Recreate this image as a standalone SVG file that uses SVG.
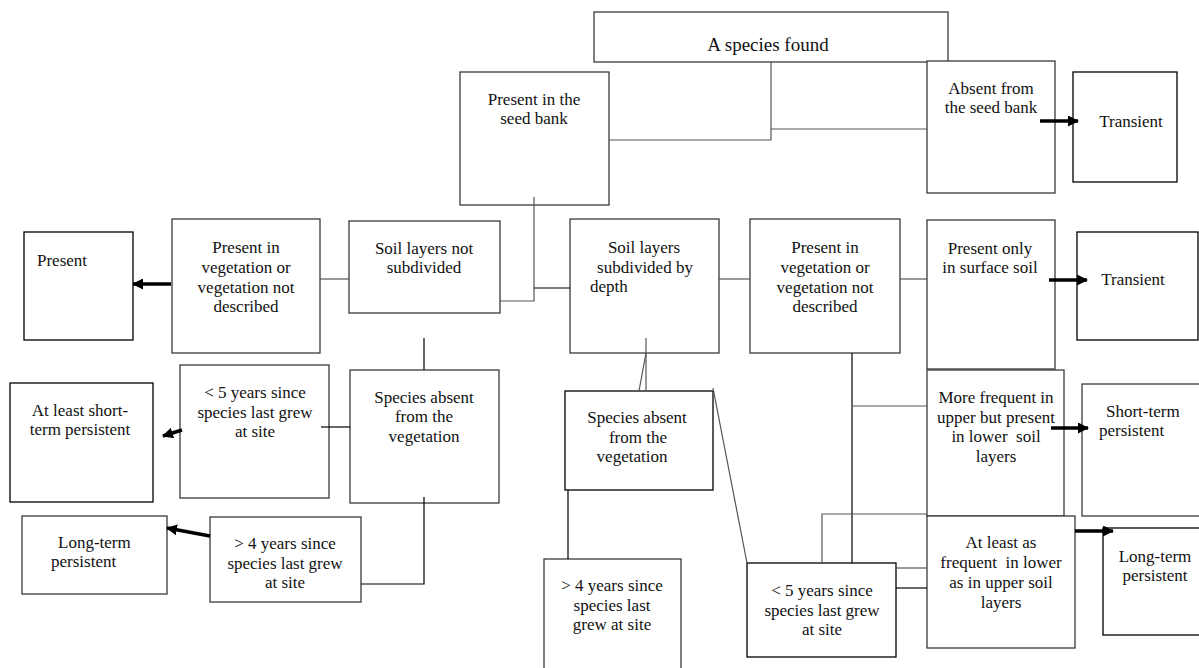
<svg xmlns="http://www.w3.org/2000/svg" width="1199" height="668" viewBox="0 0 1199 668">
<style>
.b{fill:#fff;stroke:#3a3a3a;stroke-width:1.3}
.k{fill:#fff;stroke:#000;stroke-width:1.3}
text{font-family:"Liberation Serif","Times New Roman",serif;font-size:17px;fill:#111}
.c{text-anchor:middle}
.pre{white-space:pre}
.ln{fill:none;stroke:#555;stroke-width:1.2}
.lk{fill:none;stroke:#000;stroke-width:1.2}
.ar{fill:none;stroke:#000;stroke-width:3.5;marker-end:url(#ah)}
</style>
<defs>
<marker id="ah" markerUnits="userSpaceOnUse" markerWidth="11" markerHeight="11" refX="10" refY="5.5" orient="auto">
<path d="M0,0 L11,5.5 L0,11 z" fill="#000"/>
</marker>
</defs>
<rect width="1199" height="668" fill="#fff"/>

<g id="n-species"><rect class="b" x="594" y="12" width="354" height="50"/><text class="c" x="768" y="51" style="font-size:19px">A species found</text></g>
<g id="n-seedbank"><rect class="b" x="460" y="72" width="149" height="133"/><text class="c" x="534" y="105">Present in the</text><text class="c" x="534" y="124">seed bank</text></g>
<g id="n-absent"><rect class="b" x="927" y="61" width="128" height="132"/><text class="c" x="991" y="94">Absent from</text><text class="c" x="991" y="113">the seed bank</text></g>
<g id="n-transient1"><rect class="k" x="1073" y="72" width="104" height="110"/><text class="c" x="1131" y="127">Transient</text></g>

<g id="n-present"><rect class="k" x="24" y="232" width="109" height="108"/><text x="37" y="266">Present</text></g>
<g id="n-veg-left"><rect class="b" x="172" y="219" width="148" height="134"/><text class="c" x="246" y="253">Present in</text><text class="c" x="246" y="273">vegetation or</text><text class="c" x="246" y="293">vegetation not</text><text class="c" x="246" y="312">described</text></g>
<g id="n-soil-not"><rect class="b" x="349" y="221" width="151" height="92"/><text class="c" x="424" y="254">Soil layers not</text><text class="c" x="424" y="273">subdivided</text></g>
<g id="n-soil-sub"><rect class="b" x="570" y="219" width="149" height="134"/><text class="c" x="644" y="253">Soil layers</text><text class="c" x="645" y="273">subdivided by</text><text x="590" y="292">depth</text></g>
<g id="n-veg-mid"><rect class="b" x="750" y="219" width="150" height="134"/><text class="c" x="825" y="253">Present in</text><text class="c" x="825" y="273">vegetation or</text><text class="c" x="825" y="293">vegetation not</text><text class="c" x="825" y="312">described</text></g>
<g id="n-surface"><rect class="b" x="927" y="220" width="128" height="149"/><text class="c" x="990" y="254">Present only</text><text class="c" x="990" y="273">in surface soil</text></g>
<g id="n-transient2"><rect class="k" x="1077" y="232" width="121" height="108"/><text class="c" x="1133" y="285">Transient</text></g>

<g id="n-short-left"><rect class="k" x="10" y="383" width="143" height="119"/><text class="c" x="80" y="416">At least short-</text><text class="c" x="80" y="435">term persistent</text></g>
<g id="n-lt5-left"><rect class="b" x="180" y="365" width="149" height="133"/><text class="c" x="255" y="398">&lt; 5 years since</text><text class="c" x="255" y="418">species last grew</text><text class="c" x="255" y="437">at site</text></g>
<g id="n-absveg-left"><rect class="b" x="350" y="370" width="149" height="133"/><text class="c" x="424" y="403">Species absent</text><text class="c" x="424" y="422">from the</text><text class="c" x="424" y="442">vegetation</text></g>
<g id="n-long-left"><rect class="b" x="22" y="516" width="145" height="78"/><text x="58" y="548">Long-term</text><text x="51" y="567">persistent</text></g>
<g id="n-gt4-left"><rect class="b" x="210" y="517" width="151" height="85"/><text class="c" x="285" y="549">&gt; 4 years since</text><text class="c" x="285" y="569">species last grew</text><text class="c" x="285" y="588">at site</text></g>

<g id="n-absveg-mid"><rect class="k" x="565" y="391" width="148" height="99"/><text class="c" x="637" y="423">Species absent</text><text class="c" x="638" y="443">from the</text><text class="c" x="632" y="462">vegetation</text></g>
<g id="n-gt4-mid"><rect class="b" x="544" y="559" width="137" height="115"/><text class="c" x="612" y="591">&gt; 4 years since</text><text class="c" x="612" y="611">species last</text><text class="c" x="612" y="630">grew at site</text></g>
<g id="n-lt5-mid"><rect class="k" x="747" y="563" width="149" height="94"/><text class="c" x="822" y="596">&lt; 5 years since</text><text class="c" x="822" y="616">species last grew</text><text class="c" x="822" y="635">at site</text></g>
<g id="n-morefreq"><rect class="b" x="927" y="370" width="137" height="146"/><text class="c" x="996" y="403">More frequent in</text><text class="c" x="996" y="423">upper but present</text><text class="c pre" x="996" y="442">in lower  soil</text><text class="c" x="996" y="462">layers</text></g>
<g id="n-short-right"><rect class="b" x="1082" y="384" width="130" height="132"/><text x="1106" y="417">Short-term</text><text x="1099" y="436">persistent</text></g>
<g id="n-atleast"><rect class="b" x="927" y="516" width="148" height="132"/><text class="c" x="1001" y="548">At least as</text><text class="c pre" x="1001" y="568">frequent  in lower</text><text class="c" x="1001" y="588">as in upper soil</text><text class="c" x="1001" y="608">layers</text></g>
<g id="n-long-right"><rect class="k" x="1103" y="528" width="110" height="107"/><text class="c" x="1155" y="562">Long-term</text><text class="c" x="1155" y="581">persistent</text></g>

<g id="connectors">
<polyline class="ln" points="771,62 771,140 609,140"/>
<line class="ln" x1="771" y1="129" x2="927" y2="129"/>
<polyline class="ln" points="534,197 534,301 500,301"/>
<line class="lk" x1="534" y1="288" x2="570" y2="288"/>
<line class="ln" x1="320" y1="279" x2="349" y2="279"/>
<line class="ln" x1="719" y1="279" x2="750" y2="279"/>
<line class="ln" x1="900" y1="279" x2="927" y2="279"/>
<line class="lk" x1="424" y1="338" x2="424" y2="370"/>
<line class="lk" x1="321" y1="427" x2="350" y2="427"/>
<polyline class="lk" points="424,497 424,584 361,584"/>
<line class="ln" x1="646" y1="338" x2="646" y2="391"/>
<line class="ln" x1="646" y1="353" x2="639" y2="391"/>
<line class="lk" x1="568" y1="490" x2="568" y2="559"/>
<line class="ln" x1="713" y1="388" x2="747" y2="563"/>
<line class="lk" x1="852" y1="353" x2="852" y2="563"/>
<line class="ln" x1="852" y1="406" x2="927" y2="406"/>
<polyline class="ln" points="822,563 822,514 927,514"/>
<line class="ln" x1="896" y1="568" x2="927" y2="568"/>
<line class="lk" x1="896" y1="588" x2="927" y2="588"/>
<line class="ar" x1="1040" y1="121" x2="1078" y2="121"/>
<line class="ar" x1="171" y1="284" x2="133" y2="284"/>
<line class="ar" x1="182" y1="430" x2="163" y2="436"/>
<line class="ar" x1="210" y1="536" x2="167" y2="528"/>
<line class="ar" x1="1049" y1="280" x2="1087" y2="280"/>
<line class="ar" x1="1051" y1="428" x2="1088" y2="428"/>
<line class="ar" x1="1075" y1="531" x2="1113" y2="531"/>
</g>
</svg>
